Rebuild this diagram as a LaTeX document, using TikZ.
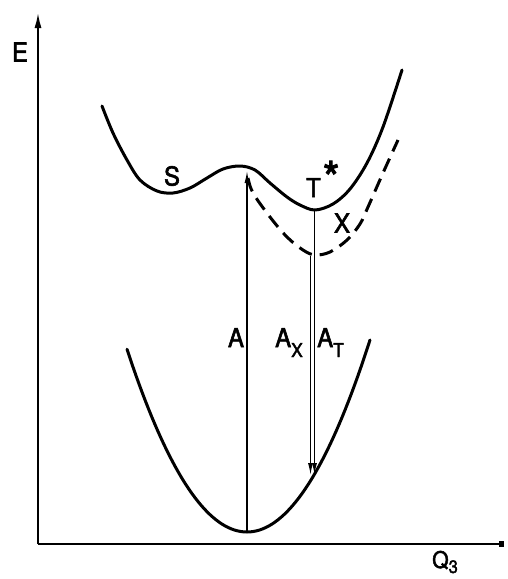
\documentclass[tikz,border=0pt]{standalone}
\usepackage{fontspec}
\setmainfont{TeX Gyre Heros}
\newfontfamily\lblfont[FakeBold=2.2, FakeStretch=0.92]{TeX Gyre Heros}
\usetikzlibrary{arrows.meta}
\begin{document}
\begin{tikzpicture}[x=1pt,y=-1pt,
  curve/.style={line width=3pt, line cap=round, line join=round},
  dashcurve/.style={line width=3pt, dash pattern=on 14pt off 8pt},
  axisline/.style={line width=2.2pt},
  thinarrow/.style={line width=1.2pt, -{Latex[length=12pt,width=5pt]}},
  lbl/.style={font=\lblfont\fontsize{26}{28}\selectfont, inner sep=0pt}
]
\useasboundingbox (0,0) rectangle (507,579);
% axes
\coordinate (origin) at (38,544);
\coordinate (ytop) at (38,12);
\coordinate (xend) at (504,544);
\draw[axisline, -{Latex[length=16pt,width=7pt]}] (origin) -- (ytop);
\draw[axisline, -{Square[length=5pt,width=6pt]}] (origin) -- (xend);
% key points
\coordinate (amax) at (247,171);
\coordinate (gmin) at (247,532);
\coordinate (tmin) at (314.5,210);
\coordinate (xmin) at (310.5,256);
\coordinate (atend) at (314.5,475);
\coordinate (axend) at (310.5,475);
% upper curve
\draw[curve] plot[smooth, tension=0.55] coordinates {
  (102,106) (113,133) (127,160) (140,180) (157,191) (173,193) (190,188)
  (207,178) (223,169) (240,166) (255,170) (270,183) (287,197) (300,205)
  (315,210) (333,204) (350,189) (367,163) (383,127) (402,70)};
% dashed curve
\draw[dashcurve] plot[smooth, tension=0.55] coordinates {
  (248,178) (253,193) (270,217) (287,237) (303,250) (315,255) (330,252)
  (347,240) (360,224) (368,207) (383,173) (398,140)};
% lower parabola
\draw[curve] plot[domain=127:370, samples=80] (\x, {532-0.0127*(\x-247)*(\x-247)});
% transitions
\draw[thinarrow] (gmin) -- (amax);
\draw[thinarrow] (tmin) -- (atend);
\draw[thinarrow] (xmin) -- (axend);
% labels
\node[lbl] (E) at (20,52) {E};
\node[lbl] (S) at (172,176) {S};
\node[lbl, anchor=base west] (T) at (306,197) {T\hspace{2pt}\raisebox{2pt}{\scalebox{1.8}{*}}};
\node[lbl] (X) at (342,223) {X};
\node[lbl, anchor=base] (A) at (236,347) {A};
\node[lbl, anchor=base west] (AX) at (275,347) {A\raisebox{-10pt}{\fontsize{19}{19}\selectfont X}};
\node[lbl, anchor=base west] (AT) at (317,347) {A\raisebox{-10pt}{\fontsize{19}{19}\selectfont T}};
\node[lbl, anchor=base west, font=\lblfont\fontsize{23}{25}\selectfont] (Q) at (432,568) {Q\raisebox{-5pt}{\fontsize{18}{18}\selectfont 3}};
\end{tikzpicture}
\end{document}
